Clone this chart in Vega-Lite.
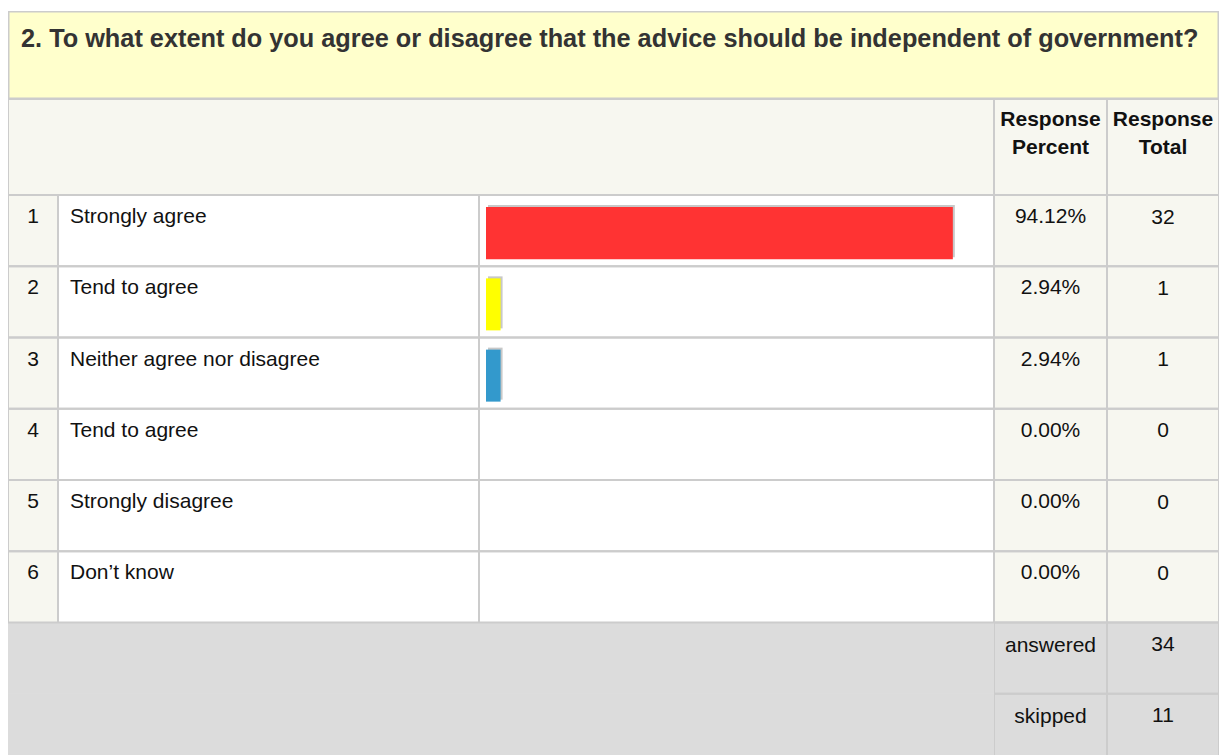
{
  "$schema": "https://vega.github.io/schema/vega-lite/v6.json",
  "padding": {"left": 8, "top": 11, "right": 0, "bottom": 0},
  "background": "white",
  "spacing": 0,
  "config": {
    "view": {"stroke": null},
    "text": {"font": "Liberation Sans"},
    "concat": {"spacing": 0}
  },
  "datasets": {
    "question": [
      {"text": "2. To what extent do you agree or disagree that the advice should be independent of government?"}
    ],
    "headers": [
      {"column": "Response Percent"},
      {"column": "Response Total"}
    ],
    "rows": [
      {"row": "1", "section": "body", "option": "Strongly agree", "pct": 0.9412, "count": 32},
      {"row": "2", "section": "body", "option": "Tend to agree", "pct": 0.0294, "count": 1},
      {"row": "3", "section": "body", "option": "Neither agree nor disagree", "pct": 0.0294, "count": 1},
      {"row": "4", "section": "body", "option": "Tend to agree", "pct": 0, "count": 0},
      {"row": "5", "section": "body", "option": "Strongly disagree", "pct": 0, "count": 0},
      {"row": "6", "section": "body", "option": "Don’t know", "pct": 0, "count": 0},
      {"row": "answered", "section": "footer", "option": "", "pct": null, "count": 34},
      {"row": "skipped", "section": "footer", "option": "", "pct": null, "count": 11}
    ]
  },
  "vconcat": [
    {
      "width": 1211,
      "height": 88,
      "view": {"fill": "#FFFFCC", "stroke": null},
      "data": {"name": "question"},
      "layer": [
        {
          "mark": {"type": "rect", "fill": null, "stroke": "#CCCCCC", "strokeWidth": 3, "clip": true},
          "encoding": {}
        },
        {
          "mark": {"type": "text", "align": "left", "baseline": "alphabetic", "dx": 13, "dy": -8, "fontSize": 25.3, "fontWeight": "bold", "color": "#333333"},
          "encoding": {"text": {"field": "text"}, "x": {"value": 0}}
        }
      ]
    },
    {
      "hconcat": [
        {
          "width": 986,
          "height": 96,
          "view": {"fill": "#F7F7F0", "stroke": null},
          "data": {"name": "question"},
          "mark": {"type": "rect", "fill": null, "stroke": "#CCCCCC", "strokeWidth": 2, "clip": true},
          "encoding": {}
        },
        {
          "width": 113,
          "height": 96,
          "view": {"fill": "#F7F7F0", "stroke": null},
          "data": {"name": "headers"},
          "transform": [{"filter": "datum.column === 'Response Percent'"}],
          "layer": [
            {
              "mark": {"type": "rect", "fill": null, "stroke": "#CCCCCC", "strokeWidth": 2, "clip": true},
              "encoding": {}
            },
            {
              "mark": {"type": "text", "fontSize": 21, "fontWeight": "bold", "lineBreak": " ", "lineHeight": 28, "baseline": "alphabetic", "dy": -21, "color": "#111111"},
              "encoding": {"text": {"field": "column"}}
            }
          ]
        },
        {
          "width": 112,
          "height": 96,
          "view": {"fill": "#F7F7F0", "stroke": null},
          "data": {"name": "headers"},
          "transform": [{"filter": "datum.column === 'Response Total'"}],
          "layer": [
            {
              "mark": {"type": "rect", "fill": null, "stroke": "#CCCCCC", "strokeWidth": 2, "clip": true},
              "encoding": {}
            },
            {
              "mark": {"type": "text", "fontSize": 21, "fontWeight": "bold", "lineBreak": " ", "lineHeight": 28, "baseline": "alphabetic", "dy": -21, "color": "#111111"},
              "encoding": {"text": {"field": "column"}}
            }
          ]
        }
      ],
      "spacing": 0,
      "bounds": "flush"
    },
    {
      "hconcat": [
        {
          "width": 50,
          "height": 560,
          "data": {"name": "rows"},
          "encoding": {
            "y": {"field": "row", "type": "ordinal", "scale": {"domain": ["1","2","3","4","5","6","answered","skipped"], "range": [0, 570], "paddingInner": 0, "paddingOuter": 0}, "axis": null}
          },
          "layer": [
            {
              "mark": {"type": "rect", "clip": true, "strokeWidth": 1},
              "encoding": {
                "fill": {"condition": {"test": "datum.section === 'footer'", "value": "#DCDCDC"}, "value": "#F7F7F0"},
                "stroke": {"condition": {"test": "datum.section === 'footer'", "value": "#DCDCDC"}, "value": "#F7F7F0"}
              }
            },
            {
              "transform": [{"filter": "datum.section === 'body'"}],
              "mark": {"type": "rect", "fill": null, "stroke": "#CCCCCC", "strokeWidth": 2, "clip": true}
            },
            {
              "transform": [{"filter": "datum.section === 'body'"}],
              "mark": {"type": "text", "baseline": "alphabetic", "dy": 28, "fontSize": 21, "color": "#111111"},
              "encoding": {
                "text": {"field": "row"},
                "y": {"field": "row", "type": "ordinal", "bandPosition": 0, "axis": null}
              }
            }
          ]
        },
        {
          "width": 421,
          "height": 560,
          "data": {"name": "rows"},
          "encoding": {
            "y": {"field": "row", "type": "ordinal", "scale": {"domain": ["1","2","3","4","5","6","answered","skipped"], "range": [0, 570], "paddingInner": 0, "paddingOuter": 0}, "axis": null}
          },
          "layer": [
            {
              "mark": {"type": "rect", "clip": true, "strokeWidth": 1},
              "encoding": {
                "fill": {"condition": {"test": "datum.section === 'footer'", "value": "#DCDCDC"}, "value": "#FFFFFF"},
                "stroke": {"condition": {"test": "datum.section === 'footer'", "value": "#DCDCDC"}, "value": "#FFFFFF"}
              }
            },
            {
              "transform": [{"filter": "datum.section === 'body'"}],
              "mark": {"type": "rect", "fill": null, "stroke": "#CCCCCC", "strokeWidth": 2, "clip": true}
            },
            {
              "transform": [{"filter": "datum.section === 'body'"}],
              "mark": {"type": "text", "align": "left", "baseline": "alphabetic", "dx": 12, "dy": 28, "fontSize": 21, "color": "#111111"},
              "encoding": {
                "text": {"field": "option"},
                "x": {"value": 0},
                "y": {"field": "row", "type": "ordinal", "bandPosition": 0, "axis": null}
              }
            }
          ]
        },
        {
          "width": 515,
          "height": 560,
          "data": {"name": "rows"},
          "encoding": {
            "y": {"field": "row", "type": "ordinal", "scale": {"domain": ["1","2","3","4","5","6","answered","skipped"], "range": [0, 570], "paddingInner": 0, "paddingOuter": 0}, "axis": null}
          },
          "layer": [
            {
              "mark": {"type": "rect", "clip": true, "strokeWidth": 1},
              "encoding": {
                "fill": {"condition": {"test": "datum.section === 'footer'", "value": "#DCDCDC"}, "value": "#FFFFFF"},
                "stroke": {"condition": {"test": "datum.section === 'footer'", "value": "#DCDCDC"}, "value": "#FFFFFF"}
              }
            },
            {
              "transform": [{"filter": "datum.section === 'body'"}],
              "mark": {"type": "rect", "fill": null, "stroke": "#CCCCCC", "strokeWidth": 2, "clip": true}
            },
            {
              "transform": [{"filter": "datum.section === 'body' && datum.pct > 0"}],
              "mark": {"type": "bar", "color": "#C8C8C8", "xOffset": 2, "yOffset": 0.5, "height": {"band": 0.73}},
              "encoding": {
                "x": {"field": "pct", "type": "quantitative", "scale": {"domain": [0, 1], "range": [7, 503]}, "axis": null}
              }
            },
            {
              "transform": [{"filter": "datum.section === 'body' && datum.pct > 0"}],
              "mark": {"type": "bar", "yOffset": 2.5, "height": {"band": 0.73}},
              "encoding": {
                "x": {"field": "pct", "type": "quantitative", "scale": {"domain": [0, 1], "range": [7, 503]}, "axis": null},
                "color": {"field": "row", "type": "nominal", "scale": {"domain": ["1","2","3"], "range": ["#FF3333","#FFFF00","#3399CC"]}, "legend": null}
              }
            }
          ]
        },
        {
          "width": 113,
          "height": 560,
          "data": {"name": "rows"},
          "encoding": {
            "y": {"field": "row", "type": "ordinal", "scale": {"domain": ["1","2","3","4","5","6","answered","skipped"], "range": [0, 570], "paddingInner": 0, "paddingOuter": 0}, "axis": null}
          },
          "layer": [
            {
              "mark": {"type": "rect", "clip": true},
              "encoding": {"fill": {"condition": {"test": "datum.section === 'footer'", "value": "#DCDCDC"}, "value": "#F7F7F0"}}
            },
            {
              "mark": {"type": "rect", "fill": null, "stroke": "#CCCCCC", "strokeWidth": 2, "clip": true}
            },
            {
              "transform": [{"filter": "datum.section === 'body'"}],
              "mark": {"type": "text", "baseline": "alphabetic", "dy": 28, "fontSize": 21, "color": "#111111"},
              "encoding": {
                "text": {"field": "pct", "type": "quantitative", "format": ".2%"},
                "y": {"field": "row", "type": "ordinal", "bandPosition": 0, "axis": null}
              }
            },
            {
              "transform": [{"filter": "datum.section === 'footer'"}],
              "mark": {"type": "text", "baseline": "alphabetic", "dy": 29, "fontSize": 21, "color": "#111111"},
              "encoding": {
                "text": {"field": "row"},
                "y": {"field": "row", "type": "ordinal", "bandPosition": 0, "axis": null}
              }
            }
          ]
        },
        {
          "width": 112,
          "height": 560,
          "data": {"name": "rows"},
          "encoding": {
            "y": {"field": "row", "type": "ordinal", "scale": {"domain": ["1","2","3","4","5","6","answered","skipped"], "range": [0, 570], "paddingInner": 0, "paddingOuter": 0}, "axis": null}
          },
          "layer": [
            {
              "mark": {"type": "rect", "clip": true},
              "encoding": {"fill": {"condition": {"test": "datum.section === 'footer'", "value": "#DCDCDC"}, "value": "#F7F7F0"}}
            },
            {
              "mark": {"type": "rect", "fill": null, "stroke": "#CCCCCC", "strokeWidth": 2, "clip": true}
            },
            {
              "mark": {"type": "text", "baseline": "alphabetic", "dy": 28.5, "fontSize": 21, "color": "#111111"},
              "encoding": {
                "text": {"field": "count", "type": "quantitative"},
                "y": {"field": "row", "type": "ordinal", "bandPosition": 0, "axis": null}
              }
            }
          ]
        }
      ],
      "spacing": 0,
      "bounds": "flush"
    }
  ]
}
